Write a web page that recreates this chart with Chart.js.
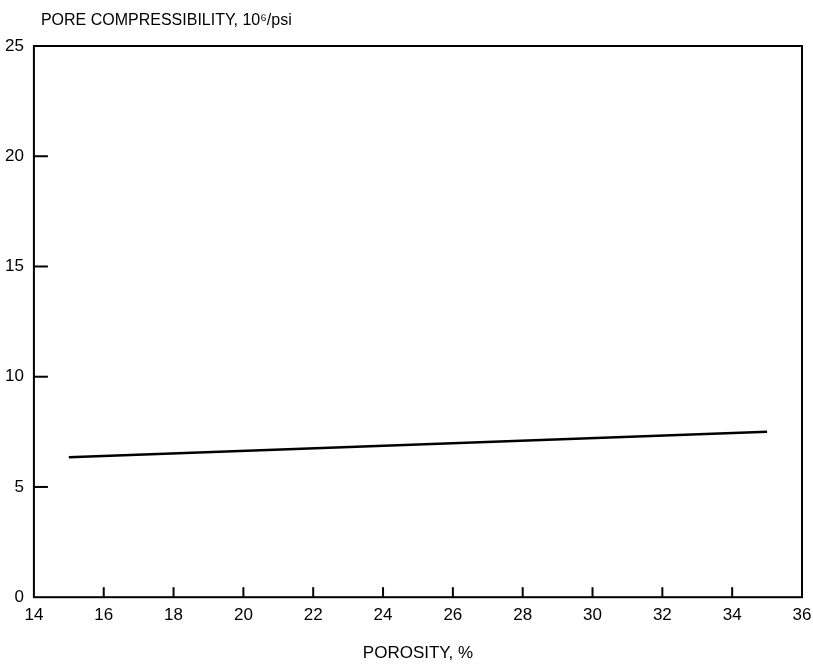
<!DOCTYPE html>
<html>
<head>
<meta charset="utf-8">
<script src="https://cdn.jsdelivr.net/npm/chart.js@4"></script>
<style>
  html, body { margin: 0; background: #fff; }
  #wrap { width: 813px; height: 668px; }
</style>
</head>
<body>
<div id="wrap"><canvas id="chart"></canvas></div>
<script>
// data
const porosity = [15, 35];
const poreCompressibility = [6.35, 7.5];
const xTickValues = [14, 16, 18, 20, 22, 24, 26, 28, 30, 32, 34, 36];
const yTickValues = [0, 5, 10, 15, 20, 25];
const xTitle = "POROSITY, %";
const yTitle = "PORE COMPRESSIBILITY, 10\u2076/psi";

const FONT = "'Liberation Sans', Arial, Helvetica, sans-serif";

// box around the plot, inward ticks, and the horizontal y title
const frameAndTicks = {
  id: "frameAndTicks",
  afterDraw(chart) {
    const { ctx, chartArea: a, scales } = chart;
    ctx.save();
    ctx.strokeStyle = "#000";
    ctx.lineWidth = 2;
    ctx.strokeRect(a.left, a.top, a.right - a.left, a.bottom - a.top);

    xTickValues.slice(1, -1).forEach((v) => {
      const x = scales.x.getPixelForValue(v);
      ctx.beginPath();
      ctx.moveTo(x, a.bottom);
      ctx.lineTo(x, a.bottom - 10);
      ctx.stroke();
    });
    yTickValues.slice(1, -1).forEach((v) => {
      const y = scales.y.getPixelForValue(v);
      ctx.beginPath();
      ctx.moveTo(a.left, y);
      ctx.lineTo(a.left + 14, y);
      ctx.stroke();
    });

    ctx.fillStyle = "#000";
    ctx.font = "16px " + FONT;
    ctx.textBaseline = "alphabetic";
    ctx.textAlign = "left";
    ctx.fillText(yTitle, a.left + 7, a.top - 21);
    ctx.restore();
  },
};

const ctx = document.getElementById("chart").getContext("2d");
new Chart(ctx, {
  type: "line",
  data: {
    datasets: [
      {
        data: porosity.map((x, i) => ({ x: x, y: poreCompressibility[i] })),
        borderColor: "#000",
        borderWidth: 2.5,
        pointRadius: 0,
        tension: 0,
      },
    ],
  },
  options: {
    responsive: true,
    maintainAspectRatio: false,
    animation: false,
    layout: {
      padding: { top: 46, right: 11, left: 3, bottom: 0 },
    },
    plugins: {
      legend: { display: false },
      tooltip: { enabled: false },
    },
    scales: {
      x: {
        type: "linear",
        min: 14,
        max: 36,
        afterBuildTicks: (scale) => {
          scale.ticks = xTickValues.map((v) => ({ value: v }));
        },
        ticks: {
          color: "#000",
          font: { family: FONT, size: 17 },
          padding: 0,
          maxRotation: 0,
        },
        grid: { display: false },
        border: { display: false },
        title: {
          display: true,
          text: xTitle,
          color: "#000",
          font: { family: FONT, size: 17 },
          padding: { top: 18 },
        },
      },
      y: {
        min: 0,
        max: 25,
        afterBuildTicks: (scale) => {
          scale.ticks = yTickValues.map((v) => ({ value: v }));
        },
        ticks: {
          color: "#000",
          font: { family: FONT, size: 17 },
          padding: 2,
        },
        grid: { display: false },
        border: { display: false },
      },
    },
  },
  plugins: [frameAndTicks],
});
</script>
</body>
</html>
